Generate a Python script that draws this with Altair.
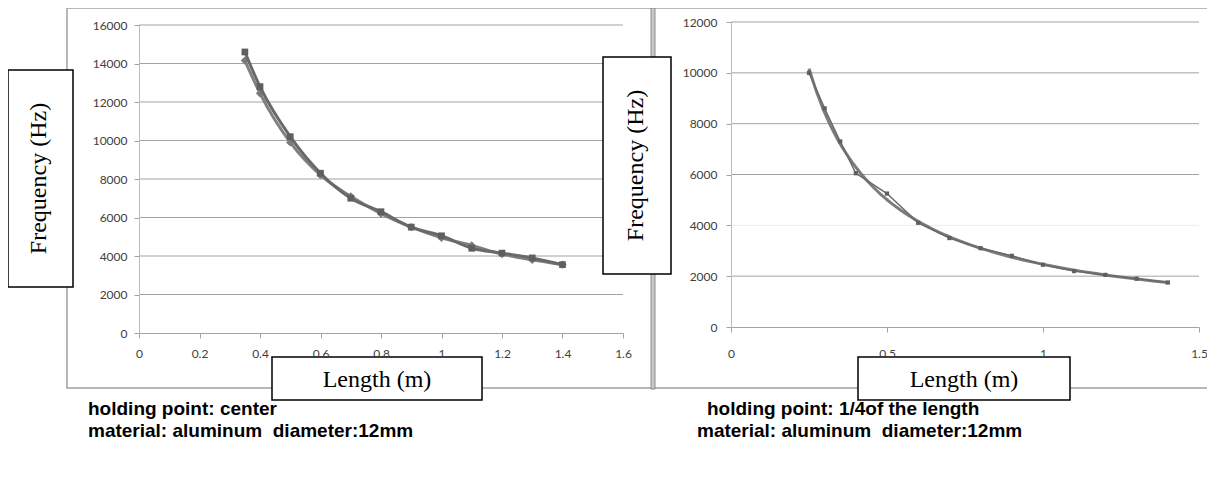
import altair as alt
import pandas as pd

# ---------------- data ----------------
left_len = [0.35, 0.4, 0.5, 0.6, 0.7, 0.8, 0.9, 1.0, 1.1, 1.2, 1.3, 1.4]
left_freq_a = [14600, 12800, 10200, 8300, 7000, 6300, 5500, 5050, 4400, 4150, 3900, 3550]
left_freq_b = [14150, 12450, 9900, 8200, 7100, 6200, 5500, 4950, 4550, 4100, 3800, 3550]

right_len = [0.25, 0.3, 0.35, 0.4, 0.5, 0.6, 0.7, 0.8, 0.9, 1.0, 1.1, 1.2, 1.3, 1.4]
right_freq = [10000, 8600, 7300, 6050, 5250, 4100, 3500, 3100, 2800, 2450, 2200, 2050, 1900, 1750]

left_xticks = [0, 0.2, 0.4, 0.6, 0.8, 1.0, 1.2, 1.4, 1.6]
left_yticks = [0, 2000, 4000, 6000, 8000, 10000, 12000, 14000, 16000]
right_xticks = [0, 0.5, 1.0, 1.5]
right_yticks = [0, 2000, 4000, 6000, 8000, 10000, 12000]
right_faint_grid = [4000]

y_title = ["Frequency (Hz)"]
x_title = ["Length (m)"]
left_caption = ["holding point: center", "material: aluminum\u00a0 diameter:12mm"]
right_caption = ["holding point: 1/4of the length", "material: aluminum\u00a0 diameter:12mm"]

W, H = 1199, 461
GRID = "#a3a3a3"
AX = "#bcbcbc"
LAB = "#404040"

def one():
    return alt.Chart(pd.DataFrame({"k": [0]}))

def xaxis(values, y_px, pad):
    return alt.Axis(orient="bottom", offset=-(H - y_px), values=values, format="~g", grid=False,
                    domainColor=GRID, tickColor=GRID, tickSize=5, labelPadding=pad, labelFont="Lato",
                    labelFontSize=12, labelColor=LAB, title=None, labelFlush=False, labelOverlap=False,
                    zindex=1)

def yaxis(values, x_px, pad):
    return alt.Axis(orient="left", offset=-x_px, values=values, format="d", grid=False,
                    domainColor=AX, tickColor=GRID, tickSize=5, labelPadding=pad, labelFont="Lato",
                    labelFontSize=12, labelColor=LAB, title=None, labelFlush=False, labelOverlap=False,
                    zindex=1)

# ---------------- left panel ----------------
lx = alt.Scale(domain=[0, 1.6], range=[131, 615], nice=False, zero=False)
ly = alt.Scale(domain=[0, 16000], range=[325, 17], nice=False, zero=False)
lxa = xaxis(left_xticks, 325, 10)
lya = yaxis(left_yticks, 131, 7)

left_df = pd.DataFrame({"L": left_len * 2,
                        "F": left_freq_a + left_freq_b,
                        "S": ["a"] * len(left_len) + ["b"] * len(left_len)})
left_grid = alt.Chart(pd.DataFrame({"F": left_yticks[1:]})).mark_rule(
    color=GRID, strokeWidth=1).encode(
    y=alt.Y("F:Q", scale=ly, axis=lya),
    x=alt.X(datum=0, type="quantitative", scale=lx, axis=lxa),
    x2=alt.X2(datum=1.6))

left_b = alt.Chart(left_df).transform_filter("datum.S == 'b'").mark_line(
    color="#808080", strokeWidth=3, interpolate="monotone",
    point=alt.OverlayMarkDef(shape="diamond", size=70, color="#7a7a7a", filled=True)).encode(
    x=alt.X("L:Q", scale=lx, axis=lxa), y=alt.Y("F:Q", scale=ly, axis=lya))
left_a = alt.Chart(left_df).transform_filter("datum.S == 'a'").mark_line(
    color="#696969", strokeWidth=3, interpolate="monotone",
    point=alt.OverlayMarkDef(shape="square", size=45, color="#5f5f5f", filled=True)).encode(
    x=alt.X("L:Q", scale=lx, axis=lxa), y=alt.Y("F:Q", scale=ly, axis=lya))

left_panel = alt.layer(left_grid, left_b, left_a)

# ---------------- right panel ----------------
rx = alt.Scale(domain=[0, 1.5], range=[723, 1191], nice=False, zero=False)
ry = alt.Scale(domain=[0, 12000], range=[319, 14], nice=False, zero=False)
rxa = xaxis(right_xticks, 319, 16)
rya = yaxis(right_yticks, 723, 9)

right_df = pd.DataFrame({"L": right_len, "F": right_freq})
right_grid = alt.Chart(pd.DataFrame({"F": [v for v in right_yticks[1:] if v not in right_faint_grid]})).mark_rule(
    color=GRID, strokeWidth=1).encode(
    y=alt.Y("F:Q", scale=ry, axis=rya),
    x=alt.X(datum=0, type="quantitative", scale=rx, axis=rxa),
    x2=alt.X2(datum=1.5))
right_grid_faint = alt.Chart(pd.DataFrame({"F": right_faint_grid})).mark_rule(
    color="#ececec", strokeWidth=1).encode(
    y=alt.Y("F:Q", scale=ry, axis=rya),
    x=alt.X(datum=0, type="quantitative", scale=rx, axis=rxa),
    x2=alt.X2(datum=1.5))

right_trend = alt.Chart(right_df).transform_regression(
    "L", "F", method="pow", extent=[0.25, 1.4]).mark_line(
    color="#7c7c7c", strokeWidth=3).encode(
    x=alt.X("L:Q", scale=rx, axis=rxa), y=alt.Y("F:Q", scale=ry, axis=rya))
right_line = alt.Chart(right_df).mark_line(
    color="#6a6a6a", strokeWidth=1.5,
    point=alt.OverlayMarkDef(shape="square", size=18, color="#5f5f5f", filled=True)).encode(
    x=alt.X("L:Q", scale=rx, axis=rxa), y=alt.Y("F:Q", scale=ry, axis=rya))

right_panel = alt.layer(right_grid, right_grid_faint, right_trend, right_line)

# ---------------- frames ----------------
left_frame = one().mark_rect(fill="white", stroke="#a0a0a0", strokeWidth=1.5).encode(
    x=alt.value(59), x2=alt.value(644), y=alt.value(0), y2=alt.value(380))
right_frame = one().mark_rect(fill="white", stroke="#a0a0a0", strokeWidth=1.5).encode(
    x=alt.value(646), x2=alt.value(1215), y=alt.value(0), y2=alt.value(380))
divider = one().mark_rect(fill="#c8c8c8", stroke="#8c8c8c", strokeWidth=1).encode(
    x=alt.value(643), x2=alt.value(647), y=alt.value(0), y2=alt.value(381))

# ---------------- boxed titles ----------------
def box(x1, x2, y1, y2):
    return one().mark_rect(fill="white", stroke="black", strokeWidth=1.5).encode(
        x=alt.value(x1), x2=alt.value(x2), y=alt.value(y1), y2=alt.value(y2))

def label(txt, x, y, size, angle=0):
    return alt.Chart(pd.DataFrame({"t": txt})).mark_text(
        font="Liberation Serif", fontSize=size, color="black", angle=angle,
        align="center", baseline="middle").encode(
        x=alt.value(x), y=alt.value(y), text="t:N")

ybox_l = box(0, 65, 62, 279)
ytxt_l = label(y_title, 31, 170.5, 24, 270)
ybox_r = box(595, 663, 49, 266)
ytxt_r = label(y_title, 628, 157.5, 24, 270)
xbox_l = box(264, 474, 349, 392)
xtxt_l = label(x_title, 369, 372, 24)
xbox_r = box(850, 1062, 349, 392)
xtxt_r = label(x_title, 956, 372, 24)

def caption(lines, xs, y0):
    layers = []
    for i, (t, x) in enumerate(zip(lines, xs)):
        layers.append(alt.Chart(pd.DataFrame({"t": [t]})).mark_text(
            font="Liberation Sans", fontSize=19, fontWeight="bold", color="black",
            align="left", baseline="middle").encode(
            x=alt.value(x), y=alt.value(y0 + 22 * i), text="t:N"))
    return layers

cap_l = caption(left_caption, [80, 80], 401)
cap_r = caption(right_caption, [699, 689], 401)

chart = alt.layer(
    left_frame, right_frame, divider,
    left_panel, right_panel,
    ybox_l, ytxt_l, ybox_r, ytxt_r, xbox_l, xtxt_l, xbox_r, xtxt_r,
    *cap_l, *cap_r,
).resolve_scale(x="independent", y="independent").properties(
    width=W, height=H, autosize=alt.AutoSizeParams(type="none"), padding=0,
    background="white",
).configure_view(strokeWidth=0)

chart.save("out.html", embed_options={"renderer": "svg", "actions": False})
